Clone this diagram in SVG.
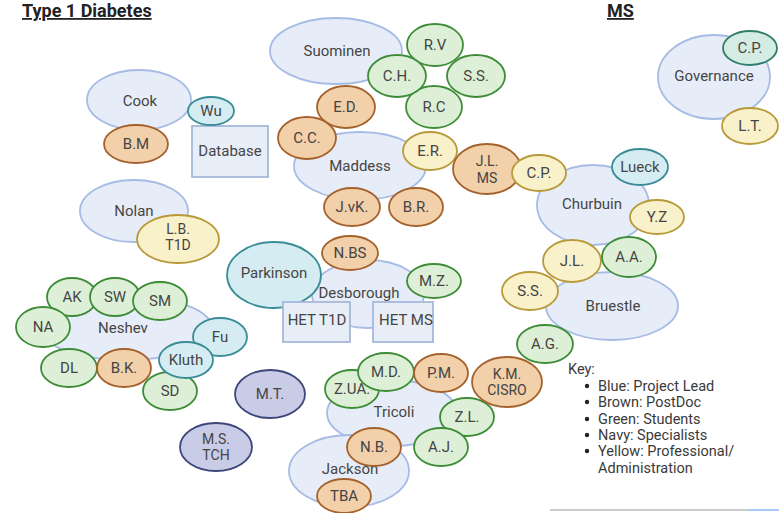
<svg xmlns="http://www.w3.org/2000/svg" width="783" height="513" viewBox="0 0 783 513">
<style>
text{font-family:Roboto,"Liberation Sans",Arial,sans-serif;font-size:15px;fill:#454545;text-anchor:middle}
.title{font-weight:bold;font-size:18px;fill:#222;text-anchor:start;text-decoration:underline}
text.two{font-size:14px}
.key{font-size:14.5px;text-anchor:start;fill:#3a3a3a}
ellipse,rect{stroke-width:1.8}
.lead{fill:#e7edf8;stroke:#a6bce4}
.teal{fill:#d5edf2;stroke:#3a8c96}
.gov{fill:#d5ece4;stroke:#2f7d6a}
.brown{fill:#f2d0aa;stroke:#a5612c}
.green{fill:#ddf0d7;stroke:#3e8c37}
.yellow{fill:#f8f1ca;stroke:#b89a3a}
.navy{fill:#c9cce6;stroke:#3d4679}
.box{fill:#e8eef8;stroke:#a6b8da}
</style>
<rect width="783" height="513" fill="#ffffff"/>
<text class="title" x="22" y="17">Type 1 Diabetes</text>
<text class="title" x="607" y="17">MS</text>
<g id="connectors"/>

<!-- Type 1 Diabetes: Cook -->
<g id="cook"><ellipse class="lead" cx="139" cy="100" rx="52" ry="30"/><text x="140" y="106">Cook</text></g>
<g id="database"><rect class="box" x="192" y="126" width="76" height="51"/><text x="230" y="156">Database</text></g>
<g id="wu"><ellipse class="teal" cx="211" cy="111" rx="23" ry="14"/><text x="211" y="116">Wu</text></g>
<g id="bm"><ellipse class="brown" cx="136" cy="144" rx="32" ry="19"/><text x="136" y="149">B.M</text></g>

<!-- Nolan -->
<g id="nolan"><ellipse class="lead" cx="134" cy="211" rx="54" ry="31"/><text x="134" y="216">Nolan</text></g>
<g id="lb"><ellipse class="yellow" cx="178" cy="239" rx="41" ry="24"/><text class="two" x="178" y="233.5">L.B.</text><text class="two" x="178" y="250">T1D</text></g>

<!-- Suominen -->
<g id="suominen"><ellipse class="lead" cx="336" cy="51" rx="66" ry="33"/><text x="337" y="56">Suominen</text></g>
<g id="rv"><ellipse class="green" cx="435" cy="45" rx="28" ry="21"/><text x="435" y="50">R.V</text></g>
<g id="ss1"><ellipse class="green" cx="476" cy="76" rx="29" ry="21"/><text x="476" y="81">S.S.</text></g>
<g id="rc"><ellipse class="green" cx="434" cy="107" rx="28" ry="21"/><text x="434" y="112">R.C</text></g>
<g id="ch"><ellipse class="green" cx="397" cy="76" rx="29" ry="21"/><text x="397" y="81">C.H.</text></g>

<!-- Maddess -->
<g id="maddess"><ellipse class="lead" cx="360" cy="166" rx="66" ry="34"/><text x="360" y="171">Maddess</text></g>
<g id="ed"><ellipse class="brown" cx="346" cy="107" rx="29" ry="21"/><text x="346" y="112">E.D.</text></g>
<g id="cc"><ellipse class="brown" cx="307" cy="138" rx="29" ry="21"/><text x="307" y="143">C.C.</text></g>
<g id="er"><ellipse class="yellow" cx="430" cy="151" rx="27" ry="19"/><text x="430" y="156">E.R.</text></g>
<g id="jvk"><ellipse class="brown" cx="352" cy="207" rx="28" ry="19"/><text x="352" y="212">J.vK.</text></g>
<g id="br"><ellipse class="brown" cx="416" cy="207" rx="27" ry="19"/><text x="416" y="212">B.R.</text></g>
<g id="jlms"><ellipse class="brown" cx="487" cy="169" rx="34" ry="25"/><text class="two" x="487" y="166">J.L.</text><text class="two" x="487" y="182.5">MS</text></g>

<!-- Desborough -->
<g id="desborough"><ellipse class="lead" cx="368" cy="294" rx="56" ry="34"/><text x="359" y="298">Desborough</text></g>
<g id="parkinson"><ellipse class="teal" cx="274" cy="275" rx="47" ry="33"/><text x="274" y="278">Parkinson</text></g>
<g id="nbs"><ellipse class="brown" cx="350" cy="253" rx="28" ry="17"/><text x="350" y="258">N.BS</text></g>
<g id="mz"><ellipse class="green" cx="434" cy="281" rx="27" ry="17"/><text x="434" y="286">M.Z.</text></g>
<g id="het-t1d"><rect class="box" x="283" y="302" width="67" height="40"/><text x="317" y="325">HET T1D</text></g>
<g id="het-ms"><rect class="box" x="373" y="302" width="60" height="40"/><text x="406" y="325">HET MS</text></g>

<!-- Neshev -->
<g id="neshev"><ellipse class="lead" cx="126" cy="328" rx="86" ry="32"/><text x="123" y="333">Neshev</text></g>
<g id="ak"><ellipse class="green" cx="72" cy="297" rx="25" ry="19"/><text x="72" y="302">AK</text></g>
<g id="sw"><ellipse class="green" cx="115" cy="297" rx="25" ry="19"/><text x="115" y="302">SW</text></g>
<g id="sm"><ellipse class="green" cx="160" cy="301" rx="27" ry="19"/><text x="160" y="306">SM</text></g>
<g id="na"><ellipse class="green" cx="43" cy="327" rx="27" ry="20"/><text x="43" y="332">NA</text></g>
<g id="dl"><ellipse class="green" cx="69" cy="368" rx="28" ry="19"/><text x="69" y="373">DL</text></g>
<g id="bk"><ellipse class="brown" cx="124" cy="368" rx="27" ry="19"/><text x="124" y="373">B.K.</text></g>
<g id="sd"><ellipse class="green" cx="170" cy="391" rx="27" ry="19"/><text x="170" y="396">SD</text></g>
<g id="fu"><ellipse class="teal" cx="220" cy="337" rx="27" ry="19"/><text x="220" y="342">Fu</text></g>
<g id="kluth"><ellipse class="teal" cx="186" cy="360" rx="27" ry="18"/><text x="186" y="365">Kluth</text></g>

<!-- Specialists -->
<g id="mt"><ellipse class="navy" cx="270" cy="394" rx="35" ry="24"/><text x="270" y="399">M.T.</text></g>
<g id="ms-tch"><ellipse class="navy" cx="216" cy="447" rx="36" ry="24"/><text class="two" x="216" y="443.5">M.S.</text><text class="two" x="216" y="460">TCH</text></g>

<!-- Tricoli / Jackson -->
<g id="tricoli"><ellipse class="lead" cx="392" cy="413" rx="65" ry="33"/><text x="394" y="417">Tricoli</text></g>
<g id="jackson"><ellipse class="lead" cx="349" cy="471" rx="60" ry="36"/><text x="350" y="474">Jackson</text></g>
<g id="zua"><ellipse class="green" cx="352" cy="389" rx="27" ry="19"/><text x="352" y="394">Z.UA.</text></g>
<g id="md"><ellipse class="green" cx="386" cy="372" rx="28" ry="19"/><text x="386" y="377">M.D.</text></g>
<g id="pm"><ellipse class="brown" cx="441" cy="373" rx="27" ry="19"/><text x="441" y="378">P.M.</text></g>
<g id="zl"><ellipse class="green" cx="467" cy="417" rx="27" ry="19"/><text x="467" y="422">Z.L.</text></g>
<g id="aj"><ellipse class="green" cx="441" cy="447" rx="27" ry="19"/><text x="441" y="452">A.J.</text></g>
<g id="nb"><ellipse class="brown" cx="374" cy="447" rx="27" ry="19"/><text x="374" y="452">N.B.</text></g>
<g id="tba"><ellipse class="brown" cx="344" cy="496" rx="27" ry="17"/><text x="344" y="501">TBA</text></g>
<g id="km"><ellipse class="brown" cx="507" cy="382" rx="35" ry="25"/><text class="two" x="507" y="378.5">K.M.</text><text class="two" x="507" y="395">CISRO</text></g>

<!-- MS: Governance -->
<g id="governance"><ellipse class="lead" cx="714" cy="77" rx="56" ry="42"/><text x="714" y="81">Governance</text></g>
<g id="cp-gov"><ellipse class="gov" cx="750" cy="48" rx="27" ry="17"/><text x="750" y="53">C.P.</text></g>
<g id="lt"><ellipse class="yellow" cx="750" cy="126" rx="28" ry="18"/><text x="750" y="131">L.T.</text></g>

<!-- Churbuin -->
<g id="churbuin"><ellipse class="lead" cx="593" cy="205" rx="56" ry="40"/><text x="592" y="209">Churbuin</text></g>
<g id="cp"><ellipse class="yellow" cx="539" cy="173" rx="27" ry="18"/><text x="539" y="178">C.P.</text></g>
<g id="lueck"><ellipse class="teal" cx="640" cy="167" rx="28" ry="18"/><text x="640" y="172">Lueck</text></g>
<g id="yz"><ellipse class="yellow" cx="657" cy="217" rx="27" ry="17"/><text x="657" y="222">Y.Z</text></g>

<!-- Bruestle -->
<g id="bruestle"><ellipse class="lead" cx="612" cy="306" rx="66" ry="34"/><text x="613" y="311">Bruestle</text></g>
<g id="jl"><ellipse class="yellow" cx="572" cy="261" rx="29" ry="21"/><text x="572" y="266">J.L.</text></g>
<g id="aa"><ellipse class="green" cx="629" cy="257" rx="27" ry="20"/><text x="629" y="262">A.A.</text></g>
<g id="ss2"><ellipse class="yellow" cx="530" cy="291" rx="28" ry="19"/><text x="530" y="296">S.S.</text></g>
<g id="ag"><ellipse class="green" cx="545" cy="344" rx="28" ry="19"/><text x="545" y="349">A.G.</text></g>

<!-- Key -->
<g id="key">
<text class="key" x="568" y="374">Key:</text>
<g fill="#222"><circle cx="587" cy="386" r="2.2"/><circle cx="587" cy="402" r="2.2"/><circle cx="587" cy="419" r="2.2"/><circle cx="587" cy="435" r="2.2"/><circle cx="587" cy="451" r="2.2"/></g>
<text class="key" x="598" y="391">Blue: Project Lead</text>
<text class="key" x="598" y="407">Brown: PostDoc</text>
<text class="key" x="598" y="424">Green: Students</text>
<text class="key" x="598" y="440">Navy: Specialists</text>
<text class="key" x="598" y="456">Yellow: Professional/</text>
<text class="key" x="598" y="473">Administration</text>
</g>

<line x1="550" y1="510" x2="748" y2="510" stroke="#bdbdbd" stroke-width="1.5"/>
<line x1="748" y1="510" x2="779" y2="510" stroke="#8fb4ef" stroke-width="1.5"/>
</svg>
